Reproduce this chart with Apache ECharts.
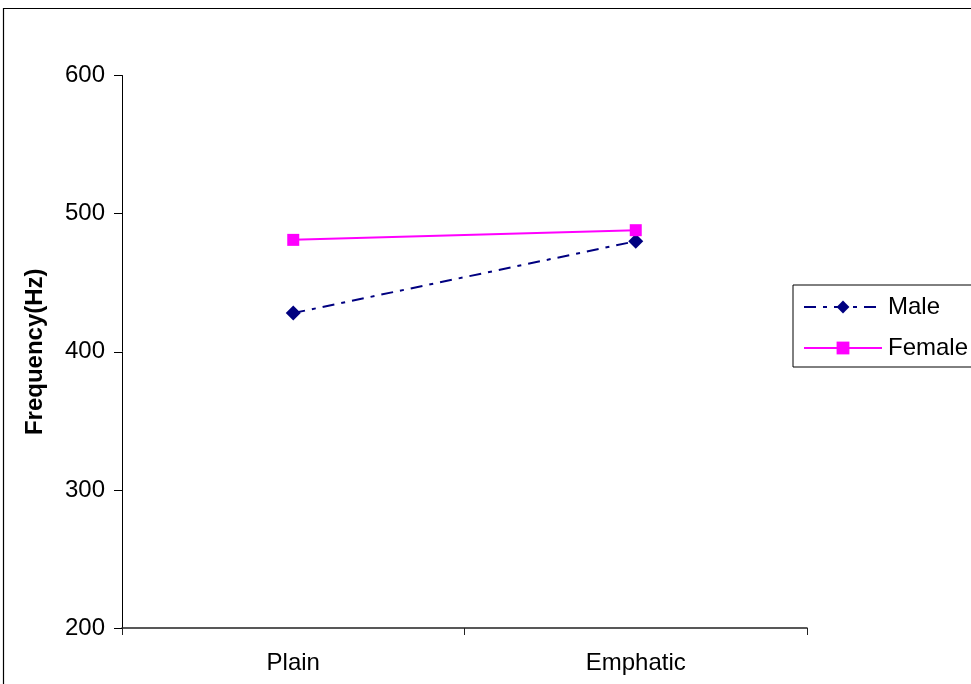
<!DOCTYPE html>
<html>
<head>
<meta charset="utf-8">
<script src="https://cdn.jsdelivr.net/npm/echarts@6/dist/echarts.min.js"></script>
<style>html,body{margin:0;padding:0;background:#fff}#c{width:971px;height:684px}</style>
</head>
<body>
<div id="c"></div>
<script>
const categories = ['Plain', 'Emphatic'];
const maleValues = [428, 480];
const femaleValues = [481, 488];
const yTicks = { min: 200, max: 600, interval: 100 };
const yAxisTitle = 'Frequency(Hz)';

const chart = echarts.init(document.getElementById('c'), null, { renderer: 'canvas' });
const font = 'Liberation Sans, Arial, sans-serif';
chart.setOption({
  animation: false,
  backgroundColor: '#fff',
  graphic: [{
    type: 'rect',
    shape: { x: 3.5, y: 8.5, width: 1200, height: 1200 },
    style: { fill: 'none', stroke: '#000', lineWidth: 1.2 },
    silent: true
  }],
  grid: { left: 122, right: 164, top: 75.5, bottom: 56 },
  legend: {
    orient: 'vertical',
    left: 793,
    top: 285,
    itemWidth: 78,
    itemHeight: 16,
    itemGap: 17,
    padding: [10, 40, 7, 10],
    borderColor: '#000',
    borderWidth: 1,
    backgroundColor: '#fff',
    textStyle: { fontFamily: font, fontSize: 24, color: '#000', padding: [0, 0, 0, 1] },
    data: ['Male', 'Female']
  },
  xAxis: {
    type: 'category',
    data: categories,
    boundaryGap: true,
    axisLine: { lineStyle: { color: '#222', width: 1.5 } },
    axisTick: { show: true, length: 7, lineStyle: { color: '#222', width: 1 } },
    axisLabel: { fontFamily: font, fontSize: 24, color: '#000', margin: 23 },
    splitLine: { show: false }
  },
  yAxis: {
    type: 'value',
    min: yTicks.min,
    max: yTicks.max,
    interval: yTicks.interval,
    name: yAxisTitle,
    nameLocation: 'middle',
    nameGap: 75,
    nameTextStyle: { fontFamily: font, fontSize: 24, fontWeight: 'bold', color: '#000' },
    axisLine: { show: true, lineStyle: { color: '#000', width: 1 } },
    axisTick: { show: true, length: 8, lineStyle: { color: '#000', width: 1 } },
    axisLabel: { fontFamily: font, fontSize: 24, color: '#000', margin: 17 },
    splitLine: { show: false }
  },
  series: [
    {
      name: 'Male',
      type: 'line',
      data: maleValues,
      symbol: 'diamond',
      symbolSize: 15,
      color: '#000080',
      itemStyle: { color: '#000080' },
      lineStyle: { color: '#000080', width: 2, type: [12, 7, 4, 7] }
    },
    {
      name: 'Female',
      type: 'line',
      data: femaleValues,
      symbol: 'rect',
      symbolSize: 12,
      color: '#FF00FF',
      itemStyle: { color: '#FF00FF' },
      lineStyle: { color: '#FF00FF', width: 2 }
    }
  ]
});
</script>
</body>
</html>
